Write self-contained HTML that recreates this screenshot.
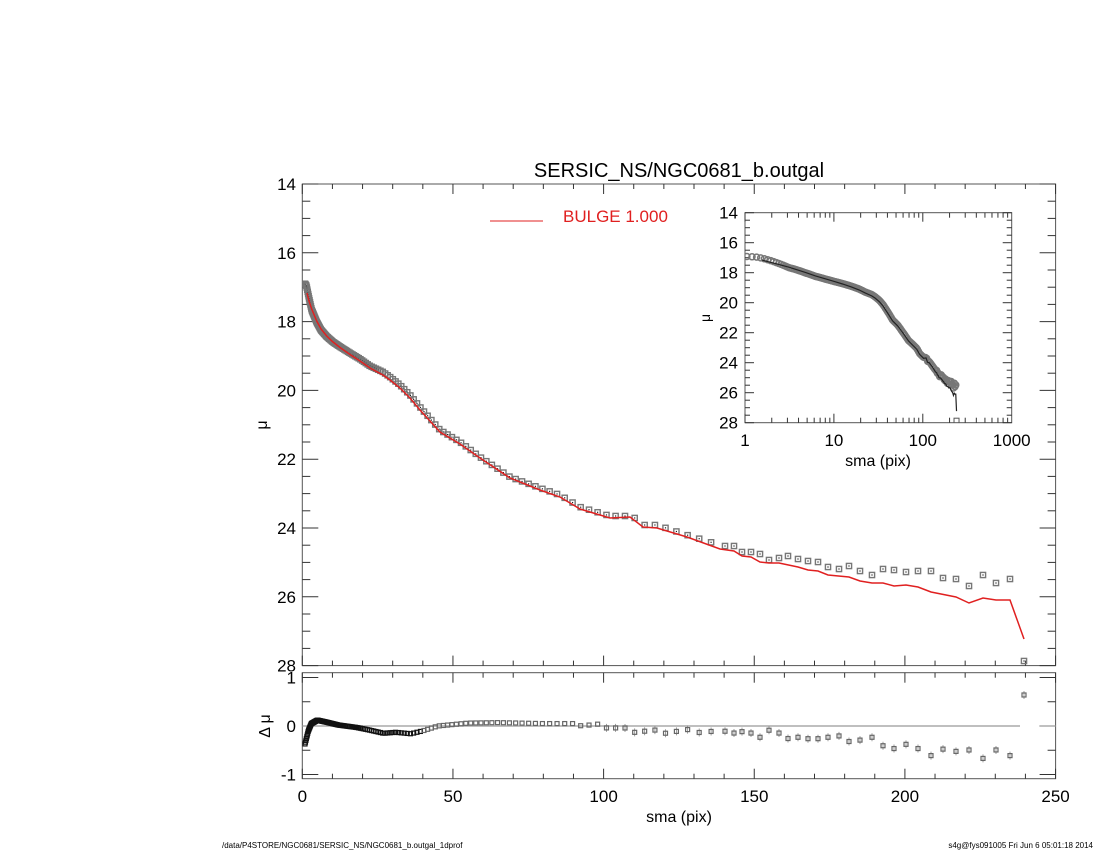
<!DOCTYPE html>
<html><head><meta charset="utf-8"><style>
html,body{margin:0;padding:0;background:#fff;}
svg{display:block;font-family:"Liberation Sans",sans-serif;}
</style></head><body>
<svg id="s" width="1100" height="850" viewBox="0 0 1100 850" xmlns="http://www.w3.org/2000/svg">
<defs>
<clipPath id="cm"><rect x="302.3" y="184" width="753.3" height="481.6"/></clipPath>
<clipPath id="cr"><rect x="302.3" y="672.7" width="753.3" height="106"/></clipPath>
<clipPath id="ci"><rect x="745" y="212.7" width="266.7" height="210"/></clipPath>
</defs>
<text x="679" y="177" font-size="20" text-anchor="middle">SERSIC_NS/NGC0681_b.outgal</text>
<line x1="490" y1="221" x2="543" y2="221" stroke="#e02020" stroke-width="1"/>
<text x="563" y="222" font-size="17" fill="#e02020">BULGE  1.000</text>
<text x="267" y="425" font-size="16" transform="rotate(-90 267 425)" text-anchor="middle">μ</text>
<text x="270" y="726" font-size="16" transform="rotate(-90 270 726)" text-anchor="middle">Δ μ</text>
<text x="679" y="822" font-size="16" text-anchor="middle">sma (pix)</text>
<text x="222" y="848" font-size="8">/data/P4STORE/NGC0681/SERSIC_NS/NGC0681_b.outgal_1dprof</text>
<text x="1093" y="848" font-size="8" text-anchor="end">s4g@fys091005  Fri Jun  6 05:01:18 2014</text>
<text x="710" y="318" font-size="14" transform="rotate(-90 710 318)" text-anchor="middle">μ</text>
<text x="878" y="466" font-size="16" text-anchor="middle">sma (pix)</text>
<g id="g"></g>
</svg>
<script>
var g=document.getElementById('g'),h='';
function L(a,b,c,d,col,w,extra){h+='<line x1="'+a+'" y1="'+b+'" x2="'+c+'" y2="'+d+'" stroke="'+(col||'#333')+'" stroke-width="'+(w||1)+'"'+(extra||'')+'/>';}
function T(x,y,t,fs,anc){h+='<text x="'+x+'" y="'+y+'" font-size="'+fs+'" text-anchor="'+(anc||'middle')+'">'+t+'</text>';}
var X0=302.3,X1=1055.6,K=3.013;
function X(s){return X0+s*K;}
function Y(m){return 184+(m-14)*34.4;}
function R(d){return 726-d*48.5;}
h+='<rect x="302.3" y="184" width="753.3" height="481.6" fill="none" stroke="#555" stroke-width="1"/>';
h+='<rect x="302.3" y="672.7" width="753.3" height="106" fill="none" stroke="#555" stroke-width="1"/>';
for(var s=0;s<=250;s+=10){var x=X(s),mj=s%50==0,l=mj?10:5;
 L(x,665.6,x,665.6-l);L(x,184,x,184+l);L(x,778.7,x,778.7-l);L(x,672.7,x,672.7+l);
 if(mj)T(x,802,s,17);}
for(var m=14;m<=28.001;m+=0.5){var y=Y(m),mj=Math.abs(m%2)<0.01,l=mj?16:8;
 L(X0,y,X0+l,y);L(X1,y,X1-l,y);if(mj)T(296,y+6,m,17,'end');}
for(var d=-1;d<=1.001;d+=0.5){var y=R(d),mj=Math.abs(d%1)<0.01,l=mj?16:8;
 L(X0,y,X0+l,y);L(X1,y,X1-l,y);if(mj)T(296,y+6,d,17,'end');}
L(X0,726,1020,726,'#aaa',1.5);L(1040,726,X1,726,'#aaa',1.5);
function interp(p,x){if(x<=p[0][0])return p[0][1];for(var i=1;i<p.length;i++){if(x<=p[i][0]){var a=p[i-1],b=p[i];return a[1]+(b[1]-a[1])*(x-a[0])/(b[0]-a[0]);}}return p[p.length-1][1];}
var obsK=[[304.5,283],[306.5,286],[309,298],[311.7,310],[316.7,322],[321,330],[326.7,336.5],[333,342],[340,346.7],[350,353],[360,359],[370,366],[383,372],[390,377],[400,385],[410,395],[420,407],[440,430],[460,442],[480,457],[510,477],[540,488],[560,495],[580,507],[610,516],[625,516],[630,514],[643,525],[657,525],[687,535],[720,545]];
var obsT=[[725,546],[734,546],[742,552],[751,552],[760,554],[769,560],[779,558],[788,556],[798,559],[808,561],[818,562],[828,567],[839,569],[849,566],[860,571],[872,575],[883,569],[894,570],[906,572],[918,571],[931,571],[943,578],[956,579],[969,586],[983,575],[996,583],[1010,579],[1024,661]];
var modK=[[307,293],[309,301],[311.7,309],[316.7,321],[321,329],[326.7,336],[333,342],[340,347.5],[350,354.5],[360,361],[370,368],[383,375],[390,380],[400,388],[410,398],[420,410],[440,432],[460,444],[480,458],[510,478],[540,490],[560,497],[580,509],[610,518],[630,517],[643,527],[657,528],[687,537],[720,549],[734,551],[742,556],[751,557],[760,562],[769,563],[779,563],[798,567],[808,570],[818,571],[828,575],[849,577],[860,581],[872,583],[883,583],[894,586],[906,585],[918,587],[931,592],[956,597],[969,603],[983,598],[996,600],[1010,600],[1024,639]];
var resK=[[0.9,-0.37],[2,-0.1],[3,0.05],[5,0.12],[8,0.08],[12,0.02],[18,-0.03],[22,-0.08],[27,-0.15],[31,-0.13],[36,-0.16],[40,-0.1],[45,0],[50,0.03],[55,0.06],[65,0.07],[80,0.05],[90,0.05],[95,0.02],[100,0],[105,-0.05],[110,-0.1],[120,-0.12],[130,-0.1],[139,-0.12]];
var obs=[],res=[];
var s=0.9,i=0;
while(s<139){var px=X(s);if(px>=304.5){obs.push([px,interp(obsK,px)]);}
 var n=(s>90)?((i%3)-1)*0.03:0;res.push([px,R(interp(resK,s)+n)]);s+=Math.max(0.15,s*0.03);i++;}
for(var j=0;j<obsT.length;j++){var o=obsT[j];obs.push(o);var mp=interp(modK,o[0]);res.push([o[0],R((o[1]-mp)/34.4)]);}
h+='<g clip-path="url(#cm)">';
obs.forEach(function(p){h+='<rect x="'+(p[0]-2.6)+'" y="'+(p[1]-2.6)+'" width="5.2" height="5.2" fill="none" stroke="#777" stroke-width="1.4"/><rect x="'+(p[0]-0.6)+'" y="'+(p[1]-0.6)+'" width="1.2" height="1.2" fill="#222"/>';});
h+='<polyline fill="none" stroke="#e02020" stroke-width="1.5" points="'+modK.map(function(p){return p.join(',')}).join(' ')+'"/>';
h+='</g>';
h+='<g clip-path="url(#cr)">';
res.forEach(function(p){var sm=(p[0]-X0)/K;if(sm>100)L(p[0],p[1]-4,p[0],p[1]+4,'#888',0.8);
 h+='<rect x="'+(p[0]-2)+'" y="'+(p[1]-2)+'" width="4" height="4" fill="none" stroke="'+(sm<40?'#111':'#666')+'" stroke-width="1.2"/>';});
h+='</g>';
var IX0=745,IX1=1011.7,IY0=212.7,IY1=422.7;
function IX(s){return IX0+Math.log10(s)*88.9;}
function IY(m){return IY0+(m-14)*15;}
h+='<rect x="'+IX0+'" y="'+IY0+'" width="'+(IX1-IX0)+'" height="'+(IY1-IY0)+'" fill="#fff" stroke="#555" stroke-width="1"/>';
for(var e=0;e<3;e++)for(var k=1;k<10;k++){var x=IX(k*Math.pow(10,e)),l=k==1?9:5;L(x,IY1,x,IY1-l);L(x,IY0,x,IY0+l);}
[1,10,100,1000].forEach(function(v){T(IX(v),446,v,17);});
for(var m=14;m<=28.001;m+=0.5){var y=IY(m),mj=Math.abs(m%2)<0.01,l=mj?9:5;L(IX0,y,IX0+l,y);L(IX1,y,IX1-l,y);if(mj)T(738,y+6,m,17,'end');}
function toI(p){var sm=(p[0]-X0)/K,mu=14+(p[1]-184)/34.4;return [IX(Math.max(sm,0.5)),IY(mu)];}
h+='<g clip-path="url(#ci)">';
obs.forEach(function(p,idx){var q=toI(p);if(idx==obs.length-1){h+='<rect x="'+(q[0]-2.5)+'" y="'+(q[1]-2.5)+'" width="5" height="5" fill="none" stroke="#555"/>';return;}
 h+='<circle cx="'+q[0]+'" cy="'+q[1]+'" r="3" fill="none" stroke="#777" stroke-width="1.5"/>';});
h+='<polyline fill="none" stroke="#222" stroke-width="1.2" points="'+modK.map(function(p){return toI(p).join(',')}).join(' ')+'"/>';
h+='</g>';
g.innerHTML=h;
</script>
</body></html>
